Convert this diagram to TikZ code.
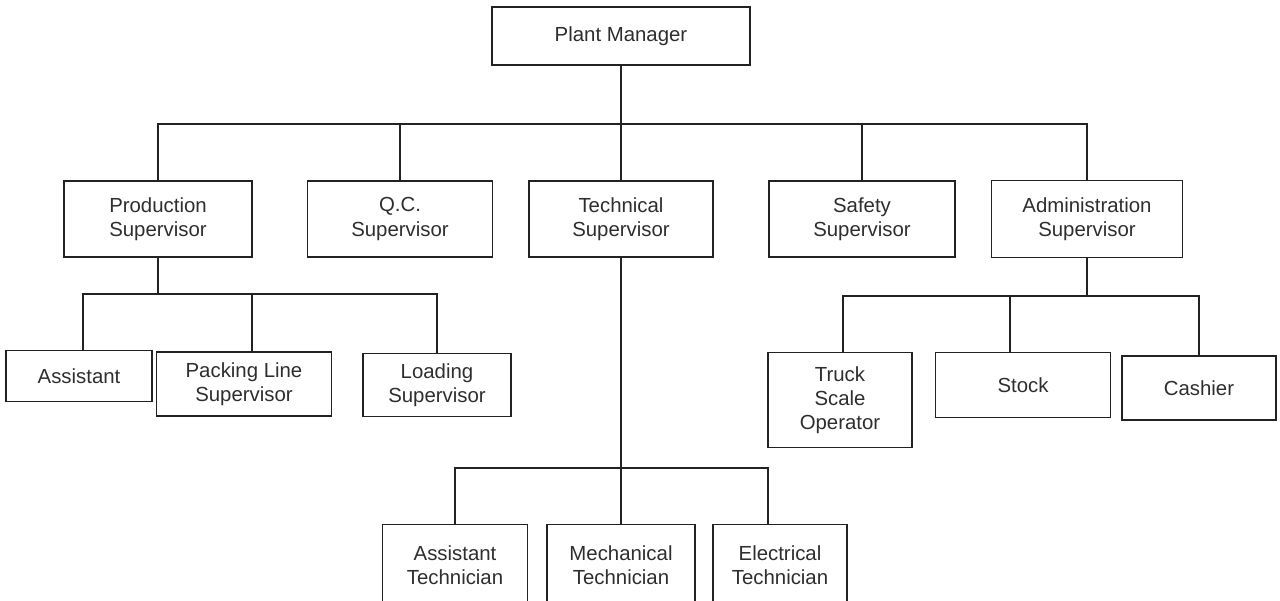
\documentclass[tikz,border=0pt]{standalone}
\usepackage{fontspec}
\setmainfont{Liberation Sans}
\usetikzlibrary{positioning}

\definecolor{inkline}{HTML}{222222}
\definecolor{inktext}{HTML}{2E2E2E}

\begin{document}
\begin{tikzpicture}[
    x=0.02cm, y=-0.02cm,
    every node/.style={draw=inkline, line width=0.9pt, align=center, text=inktext,
        inner sep=1pt, font=\fontsize{11.6}{13.7}\selectfont},
    boxsize/.style 2 args={minimum width=#1*0.02cm, minimum height=#2*0.02cm},
    link/.style={draw=inkline, line width=0.9pt}
]
    \useasboundingbox (0,0) rectangle (1280,601);
    \clip (0,0) rectangle (1280,601);

    % top
    \node[boxsize={258}{58}] (pm) at (621,36) {Plant Manager};

    % supervisors
    \node[boxsize={188}{76}] (prod)  at (158,219)  {Production\\Supervisor};
    \node[boxsize={185}{76}] (qc)    at (400,219)  {Q.C.\\Supervisor};
    \node[boxsize={184}{76}] (tech)  at (621,219)  {Technical\\Supervisor};
    \node[boxsize={186}{76}] (safe)  at (862,219)  {Safety\\Supervisor};
    \node[boxsize={191}{77}] (admin) at (1087,219) {Administration\\Supervisor};

    % production staff
    \node[boxsize={146}{51}] (asst) at (79,376)  {Assistant};
    \node[boxsize={175}{64}] (pack) at (244,384) {Packing Line\\Supervisor};
    \node[boxsize={148}{63}] (load) at (437,385) {Loading\\Supervisor};

    % administration staff
    \node[boxsize={144}{95}] (truck) at (840,400)  {Truck\\Scale\\Operator};
    \node[boxsize={175}{65}] (stock) at (1023,385) {Stock};
    \node[boxsize={154}{64}] (cash)  at (1199,388) {Cashier};

    % technicians
    \node[boxsize={145}{81}] (atech) at (455,565) {Assistant\\Technician};
    \node[boxsize={148}{81}] (mtech) at (621,565) {Mechanical\\Technician};
    \node[boxsize={134}{81}] (etech) at (780,565) {Electrical\\Technician};

    % buses
    \coordinate (bus0) at (621,124);
    \coordinate (bus1) at (158,294);
    \coordinate (bus2) at (1087,296);
    \coordinate (bus3) at (621,468);

    \draw[link] (pm.south) -- (tech.north);
    \draw[link] (prod.north) |- (bus0) -| (admin.north);
    \draw[link] (qc.north) -- (qc.north |- bus0);
    \draw[link] (safe.north) -- (safe.north |- bus0);

    \draw[link] (prod.south) -- (bus1);
    \draw[link] ([xshift=0.08cm]asst.north) |- (bus1) -| (load.north);
    \draw[link] ([xshift=0.16cm]pack.north) -- ([xshift=0.16cm]pack.north |- bus1);

    \draw[link] (admin.south) -- (bus2);
    \draw[link] ([xshift=0.06cm]truck.north) |- (bus2) -| (cash.north);
    \draw[link] ([xshift=-0.26cm]stock.north) -- ([xshift=-0.26cm]stock.north |- bus2);

    \draw[link] (tech.south) -- (mtech.north);
    \draw[link] (atech.north) |- (bus3) -| ([xshift=-0.24cm]etech.north);
\end{tikzpicture}
\end{document}
